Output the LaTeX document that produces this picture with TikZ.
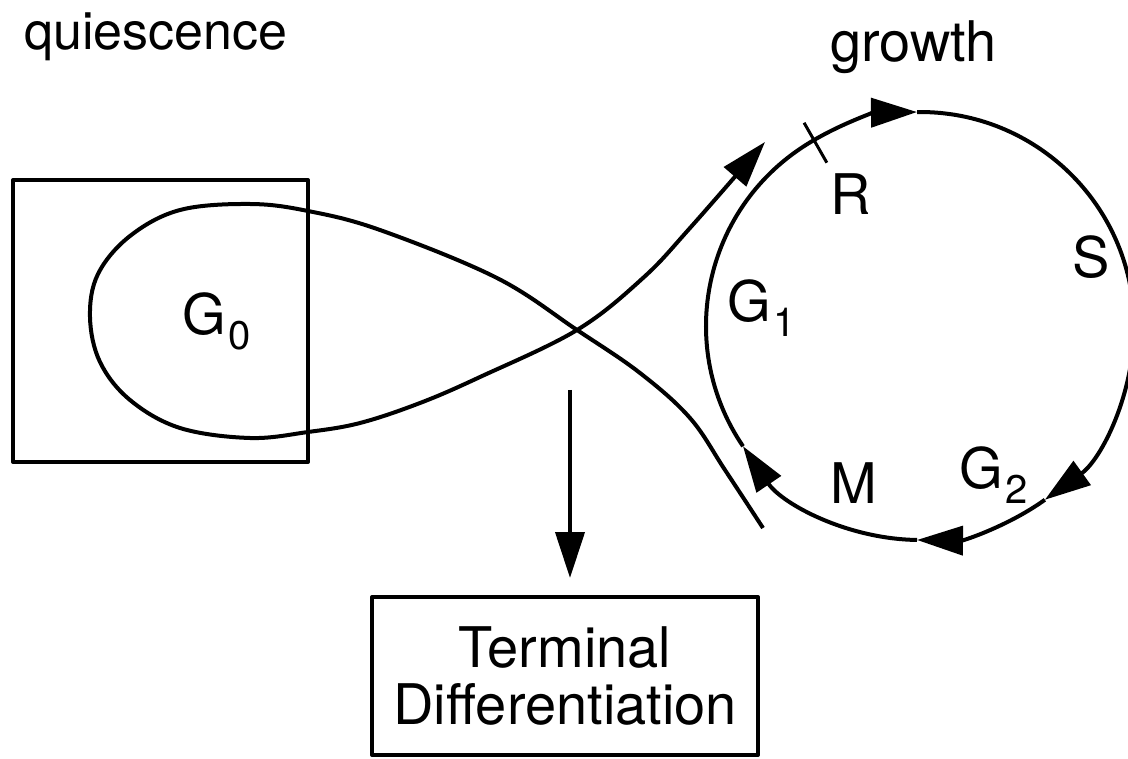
\documentclass[tikz,border=0pt]{standalone}
\usepackage{fontspec}
\setmainfont{TeX Gyre Heros}
\usetikzlibrary{arrows.meta}
\newcommand\idx[1]{\kern3pt\raisebox{-15pt}{\fontsize{40}{40}\selectfont #1}}
\begin{document}
\begin{tikzpicture}[x=1pt, y=-1pt, line width=4pt, line join=round, font=\fontsize{56}{57}\selectfont,
	>={Triangle[length=46pt, width=29pt]},
	lbl/.style={anchor=base west, inner sep=0pt}]
	\useasboundingbox (0,0) rectangle (1128,759);
	\def\rad{214}
	\path 
	(920,326) coordinate (c)
	(570,390) coordinate (fork)
	;
	% quiescence box and figure eight
	\draw (13,180) rectangle (308,462);
	\draw[->] plot[smooth, tension=0.6] coordinates {(763,528) (725,470) (690,418) (640,373) (577,330) (497,278) (380,230) (308,211) (250,204) (180,210) (130,236) (98,274) (90,317) (100,362) (130,400) (180,428) (250,438) (308,432) (360,423) (420,403) (480,377) (577,330) (643,278) (690,228) (765,142)};
	% growth cycle
	\draw[->] (c) ++(145.8:\rad) arc[start angle=145.8, end angle=269.2, radius=\rad];
	\draw[->] (c) ++(269.2:\rad) arc[start angle=269.2, end angle=414.3, radius=\rad];
	\draw[->] (c) ++(54.3:\rad) arc[start angle=54.3, end angle=90.8, radius=\rad];
	\draw[->] (c) ++(90.8:\rad) arc[start angle=90.8, end angle=145.8, radius=\rad];
	\draw[line width=3pt] (c) ++(240.3:188) -- ++(240.3:46);
	% labels
	\node[lbl, font=\fontsize{52}{57}\selectfont] (quies) at (22,50) {quiescence};
	\node[lbl] (grow) at (828,62) {growth};
	\node[lbl] (g0) at (180,335) {G\idx{0}};
	\node[lbl] (g1) at (725,322) {G\idx{1}};
	\node[lbl] (r) at (828,215) {R};
	\node[lbl] (s) at (1070,278) {S};
	\node[lbl] (m) at (828,503) {M};
	\node[lbl] (g2) at (957,488) {G\idx{2}};
	\node[draw, minimum width=386pt, minimum height=158pt, align=center] (td) at (565,676) {Terminal\\Differentiation};
	\draw[->, shorten >=17pt] (fork) -- (fork |- td.north);
\end{tikzpicture}
\end{document}
